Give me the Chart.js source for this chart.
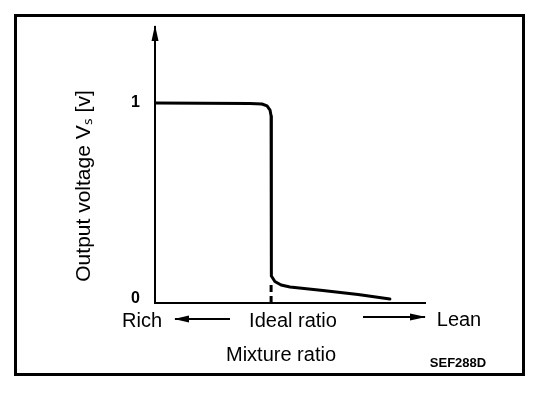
<!DOCTYPE html>
<html>
<head>
<meta charset="utf-8">
<script src="https://cdn.jsdelivr.net/npm/chart.js@4"></script>
<style>
  body { margin: 0; background: #fff; }
  #wrap { position: relative; width: 560px; height: 394px; }
  #frame { position: absolute; left: 14px; top: 14px; width: 505px; height: 356px; border: 3px solid #000; pointer-events: none; }
</style>
</head>
<body>
<div id="wrap">
  <canvas id="sensorChart" width="560" height="394"></canvas>
  <div id="frame"></div>
</div>
<script>
// Curve (x: mixture position 0..100, y: volts)
const curveX = [0, 35.2, 39.6, 41.5, 42.6, 43.0, 43.0, 43.0, 43.3, 44.4, 46.7, 50.0, 62.2, 75.2, 87.0];
const curveY = [1.0, 0.997, 0.995, 0.985, 0.964, 0.934, 0.504, 0.156, 0.115, 0.087, 0.069, 0.059, 0.041, 0.020, -0.003];
// dashed marker at the ideal ratio
const idealX = [43.0, 43.0];
const idealY = [-0.023, 0.07];
const yTicks = [0, 1];
const xLabels = ['Rich', 'Ideal ratio', 'Lean'];

const toPoints = (xs, ys) => xs.map((x, i) => ({ x: x, y: ys[i] }));

// axis arrows and the text around the axes
const decorations = {
    id: 'decorations',
    afterDraw(chart) {
        const { ctx, chartArea } = chart;
        const { left, right, top, bottom } = chartArea;
        ctx.save();
        ctx.fillStyle = '#000';
        ctx.strokeStyle = '#000';

        // y axis arrowhead
        ctx.beginPath();
        ctx.moveTo(left, top - 2);
        ctx.lineTo(left - 3.5, top + 14);
        ctx.lineTo(left + 3.5, top + 14);
        ctx.closePath();
        ctx.fill();

        // Rich / Ideal / Lean arrows
        const ay = bottom + 16;
        ctx.lineWidth = 2;
        ctx.beginPath();
        ctx.moveTo(left + 20, ay);
        ctx.lineTo(left + 75, ay);
        ctx.moveTo(right - 62, ay - 2);
        ctx.lineTo(right, ay - 2);
        ctx.stroke();
        ctx.beginPath();
        ctx.moveTo(left + 19, ay);
        ctx.lineTo(left + 34, ay - 3.5);
        ctx.lineTo(left + 34, ay + 3.5);
        ctx.closePath();
        ctx.fill();
        ctx.beginPath();
        ctx.moveTo(right + 1, ay - 2);
        ctx.lineTo(right - 15, ay - 5.5);
        ctx.lineTo(right - 15, ay + 1.5);
        ctx.closePath();
        ctx.fill();

        ctx.textAlign = 'center';
        ctx.textBaseline = 'middle';
        ctx.font = '20px "Liberation Sans", Arial, sans-serif';
        ctx.fillText(xLabels[0], 142, bottom + 18);
        ctx.fillText(xLabels[1], 293, bottom + 18);
        ctx.fillText(xLabels[2], 459, bottom + 17);
        ctx.fillText('Mixture ratio', 281, bottom + 52);

        ctx.font = 'bold 13px "Liberation Sans", Arial, sans-serif';
        ctx.fillText('SEF288D', 458, 363);

        ctx.translate(84, 186);
        ctx.rotate(-Math.PI / 2);
        ctx.font = '21px "Liberation Sans", Arial, sans-serif';
        ctx.fillText('Output voltage V\u209B [v]', 0, 0);
        ctx.restore();
    }
};

const ctx = document.getElementById('sensorChart').getContext('2d');
const sensorChart = new Chart(ctx, {
    type: 'line',
    data: {
        datasets: [{
            data: toPoints(curveX, curveY),
            borderColor: '#000',
            borderWidth: 3,
            pointRadius: 0,
            tension: 0,
            borderJoinStyle: 'round',
            borderCapStyle: 'round'
        }, {
            data: toPoints(idealX, idealY),
            borderColor: '#000',
            borderWidth: 3,
            borderDash: [7, 4],
            pointRadius: 0
        }]
    },
    options: {
        responsive: false,
        animation: false,
        layout: {
            padding: { top: 27, right: 135, left: 0, bottom: 0 }
        },
        plugins: {
            legend: { display: false },
            tooltip: { enabled: false }
        },
        scales: {
            x: {
                type: 'linear',
                min: 0,
                max: 100,
                grid: { display: false, drawTicks: false },
                border: { display: true, color: '#000', width: 2 },
                ticks: { display: false },
                afterFit: (scale) => { scale.height = 91; }
            },
            y: {
                type: 'linear',
                min: -0.023,
                max: 1.389,
                grid: { display: false, drawTicks: false },
                border: { display: true, color: '#000', width: 2 },
                afterBuildTicks: (scale) => { scale.ticks = yTicks.map(v => ({ value: v })); },
                ticks: {
                    color: '#000',
                    padding: 15,
                    font: { family: '"Liberation Sans", Arial, sans-serif', size: 16, weight: 'bold' }
                },
                afterFit: (scale) => { scale.width = 155; }
            }
        }
    },
    plugins: [decorations]
});
</script>
</body>
</html>
